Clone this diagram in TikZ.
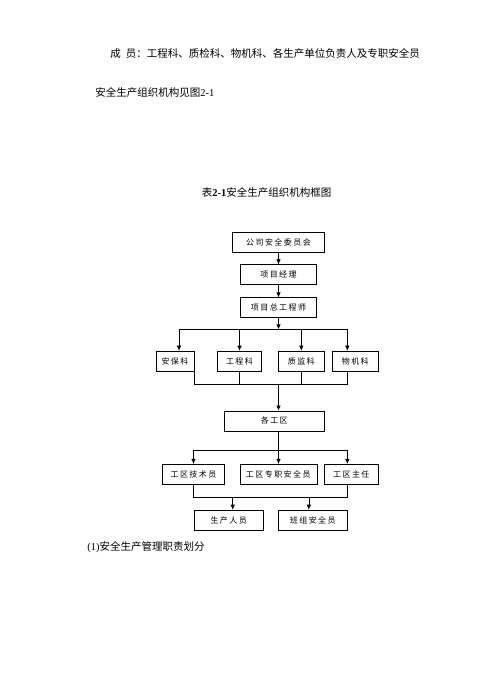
\documentclass[tikz,border=0pt]{standalone}
\usepackage{fontspec}
\setmainfont{Liberation Serif}
\newfontfamily\cjk{Noto Sans CJK SC}
\newfontfamily\boxcjk[LetterSpace=18]{Noto Sans CJK SC}
\usetikzlibrary{arrows.meta, positioning}
\tikzstyle{unit} = [rectangle, draw, inner sep=0pt, minimum height=20pt,
    font=\boxcjk\fontsize{8}{9.5}\selectfont]
\tikzstyle{line} = [draw, -{Latex[length=5pt,width=4.5pt]}]
\tikzstyle{para} = [anchor=west, inner sep=0pt, font=\cjk\fontsize{10.5}{12}\selectfont]

\begin{document}
\begin{tikzpicture}[x=1pt, y=1pt, node distance=32pt, line width=0.6pt]
  \useasboundingbox (0,0) rectangle (500,-675);
  % Text around the chart
  \node[para] (members) at (110,-53) {成\hspace{5pt}员：工程科、质检科、物机科、各生产单位负责人及专职安全员};
  \node[para] (see) at (95,-92) {安全生产组织机构见图{\rmfamily 2-1}};
  \node[inner sep=0pt, font=\cjk\fontsize{10.5}{12}\selectfont] (caption) at (266.5,-192.5) {表{\rmfamily\bfseries 2-1}安全生产组织机构框图};
  \node[para] (duty) at (87,-547) {{\rmfamily (1)}安全生产管理职责划分};

  % Place nodes
  % Project level
  \node[unit, minimum width=92pt] (comm) at (278.5,-242.5) {公司安全委员会};
  \node[unit, minimum width=76pt, below of=comm, node distance=32.2pt] (pm) {项目经理};
  \node[unit, minimum width=76pt, below of=pm, node distance=33pt] (chief) {项目总工程师};
  % Departments
  \node[unit, minimum width=38pt] (anbao) at (175,-361) {安保科};
  \node[unit, minimum width=44pt] (gongcheng) at (239.5,-361) {工程科};
  \node[unit, minimum width=46pt] (zhijian) at (301.3,-361) {质监科};
  \node[unit, minimum width=46pt] (wuji) at (355.3,-361) {物机科};
  % Work zones
  \node[unit, minimum width=100pt] (zone) at (274.3,-420.8) {各工区};
  \node[unit, minimum width=62pt] (tech) at (193.5,-474.2) {工区技术员};
  \node[unit, minimum width=77pt] (safeoff) at (278.3,-474.2) {工区专职安全员};
  \node[unit, minimum width=54pt] (head) at (351.3,-474.2) {工区主任};
  \node[unit, minimum width=69pt] (worker) at (228.7,-520) {生产人员};
  \node[unit, minimum width=69pt] (teamsafe) at (312.8,-520) {班组安全员};

  \coordinate (split1) at (278.5,-329.3);
  \coordinate (join1) at (278.5,-384);
  \coordinate (split2) at (278.5,-450.7);
  \coordinate (join2) at (278.5,-497.3);

  % Draw edges
  \path [line] (comm) -- (pm);
  \path [line] (pm) -- (chief);
  \path [line] (chief) -- (split1);

  \path [line] (split1) -| ([xshift=4pt]anbao.north);
  \path [line] (split1) -| (gongcheng);
  \path [line] (split1) -| (zhijian);
  \path [line] (split1) -| ([xshift=-8pt]wuji.north);

  \draw ([xshift=19pt]anbao.south) |- (join1);
  \draw (gongcheng.south) |- (join1);
  \draw (zhijian.south) |- (join1);
  \draw ([xshift=-8pt]wuji.south) |- (join1);
  \path [line] (join1) -- (join1 |- zone.north);

  \draw (zone.south -| split2) -- (split2);
  \path [line] (split2) -| (tech);
  \path [line] (split2) -- (split2 |- safeoff.north);
  \path [line] (split2) -| ([xshift=-4pt]head.north);

  \draw (tech.south) |- (join2) -| ([xshift=-4pt]head.south);
  \path [line] ([xshift=4pt]worker.north |- join2) -- ([xshift=4pt]worker.north);
  \path [line] ([xshift=-4pt]teamsafe.north |- join2) -- ([xshift=-4pt]teamsafe.north);
\end{tikzpicture}
\end{document}
